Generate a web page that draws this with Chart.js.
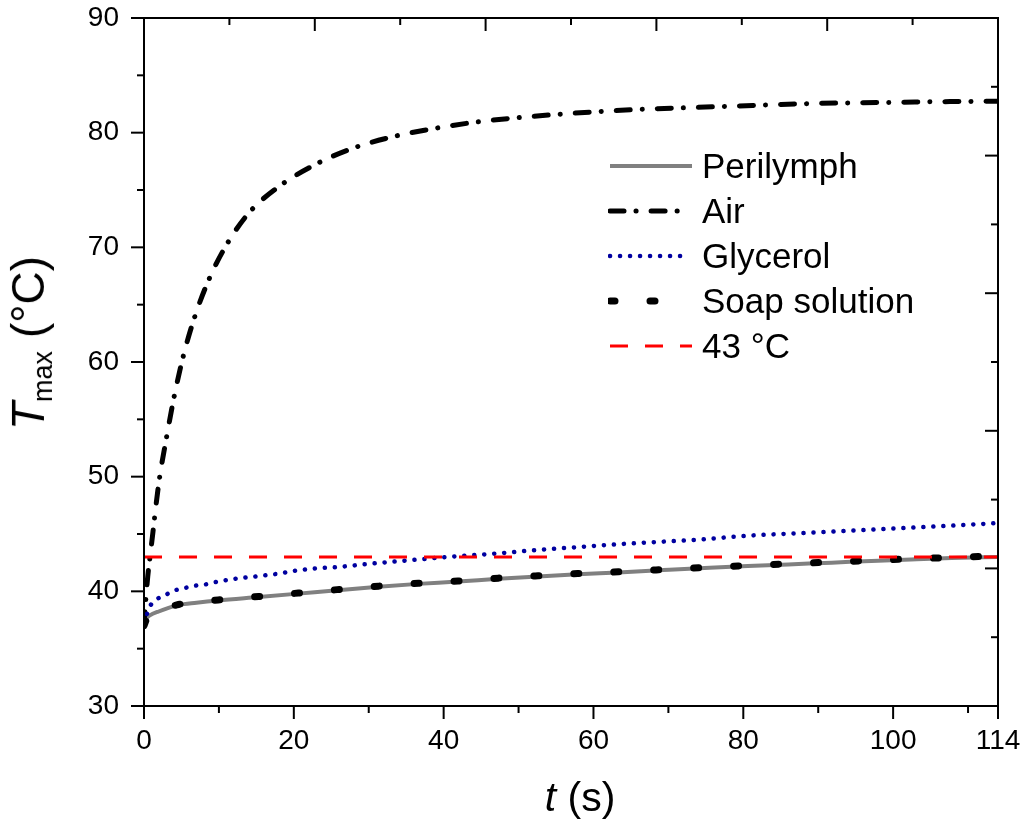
<!DOCTYPE html>
<html>
<head>
<meta charset="utf-8">
<script src="https://cdn.jsdelivr.net/npm/chart.js@4/dist/chart.umd.min.js"></script>
<style>
  html, body { margin: 0; padding: 0; background: #fff; }
  #wrap { position: relative; width: 1024px; height: 819px; font-family: "Liberation Sans", Arial, sans-serif; color: #000; }
  #c { position: absolute; left: 0; top: 0; }
  .title { position: absolute; white-space: nowrap; line-height: 1; }
  #xtitle { left: 580px; top: 797px; transform: translate(-50%, -50%); font-size: 41px; }
  #ytitle { left: 31px; top: 343px; transform: translate(-50%, -50%) rotate(-90deg); font-size: 46px; }
  #ytitle sub { font-size: 27px; vertical-align: -0.3em; }
  #legend { position: absolute; left: 608px; top: 143px; }
  .row { display: flex; align-items: center; height: 45px; }
  .row svg { width: 86px; height: 20px; margin-right: 8px; }
  .row span { font-size: 35px; line-height: 1; }
</style>
</head>
<body>
<div id="wrap">
  <canvas id="c" width="1024" height="819"></canvas>
  <div id="xtitle" class="title"><i>t</i> (s)</div>
  <div id="ytitle" class="title"><i>T</i><sub>max</sub> (°C)</div>
  <div id="legend"></div>
</div>
<script>
// ---- data ----
const seriesNames = ['Perilymph', 'Air', 'Glycerol', 'Soap solution', '43 °C'];

const perilymphT = [0, 0.3, 0.9, 1.8, 3, 4.6, 7, 9.9, 15.3, 20.6, 25.8, 31.3, 36.6, 41.9, 47.3, 52.6, 57.9, 63.3, 69.3, 75.5, 80.6, 86, 91.8, 97.1, 102.4, 107.8, 114];
const perilymphV = [37.1, 37.6, 37.95, 38.2, 38.5, 38.8, 39.0, 39.2, 39.5, 39.8, 40.1, 40.4, 40.65, 40.85, 41.1, 41.3, 41.5, 41.65, 41.85, 42.05, 42.2, 42.35, 42.5, 42.65, 42.78, 42.9, 43.0];

const airT = [0, 0.15, 0.3, 0.5, 0.8, 1.2, 1.6, 2.1, 3.0, 4.0, 5.2, 6.7, 8.6, 11.0, 14.0, 18.0, 22.8, 27.7, 32.9, 38.2, 43.5, 48.9, 54.3, 59.7, 65, 73.5, 79, 84.5, 89.8, 95.2, 100.7, 106, 114];
const airV = [37.0, 38.5, 39.8, 41.3, 43.0, 45.2, 47.5, 50.0, 53.4, 56.9, 60.4, 63.8, 67.1, 70.2, 73.0, 75.3, 77.2, 78.6, 79.6, 80.3, 80.85, 81.25, 81.55, 81.8, 82.0, 82.2, 82.32, 82.45, 82.55, 82.6, 82.65, 82.7, 82.75];

const glycerolT = [0, 0.33, 0.8, 1.7, 2.9, 4.2, 5.5, 6.9, 8.2, 9.5, 12.2, 14.9, 17.5, 20.2, 22.9, 25.5, 30.9, 36.2, 41.5, 47.1, 52.4, 57.8, 63.1, 68.4, 73.9, 80.6, 88.7, 100.9, 107, 114];
const glycerolV = [37.2, 37.9, 38.7, 39.3, 39.7, 40.1, 40.3, 40.5, 40.6, 40.8, 41.1, 41.3, 41.5, 41.8, 42.0, 42.1, 42.45, 42.75, 43.05, 43.3, 43.6, 43.85, 44.1, 44.3, 44.5, 44.85, 45.1, 45.5, 45.7, 45.95];

const soapT = [0, 0.5, 1.8, 4.6, 9.9, 15.3, 20.6, 25.8, 31.3, 36.6, 41.9, 47.3, 52.6, 57.9, 63.3, 69.3, 75.5, 80.6, 86, 91.8, 97.1, 102.4, 107.8, 114];
const soapV = [37.0, 37.8, 38.25, 38.85, 39.25, 39.55, 39.85, 40.15, 40.45, 40.7, 40.9, 41.15, 41.35, 41.55, 41.7, 41.9, 42.1, 42.25, 42.4, 42.55, 42.7, 42.83, 42.95, 43.1];

const thresholdT = [0, 114];
const thresholdV = [43, 43];

// ---- ticks ----
const xTickValues = [0, 20, 40, 60, 80, 100, 114];
const xMinorTicks = [10, 30, 50, 70, 90, 110];
const yTickValues = [30, 40, 50, 60, 70, 80, 90];
const yMinorTicks = [35, 45, 55, 65, 75, 85];
const topTickValues = [0, 11.4, 22.8, 34.2, 45.6, 57, 68.4, 79.8, 91.2, 102.6, 114];
const rightTickValues = [90, 84, 78, 72, 66, 60, 54, 48, 42, 36, 30];

const pts = (ts, vs) => ts.map((t, i) => ({x: t, y: vs[i]}));

const styles = [
  {color: '#808080', width: 4, dash: [], cap: 'butt', legendLen: 82},
  {color: '#000000', width: 5, dash: [14, 12, 0.1, 15], cap: 'round', legendLen: 82},
  {color: '#0000a0', width: 4.5, dash: [0.1, 9.9], cap: 'round', legendLen: 79},
  {color: '#000000', width: 7, dash: [5, 35], cap: 'round', legendLen: 78},
  {color: '#ff0000', width: 3, dash: [18, 17], cap: 'butt', legendLen: 82}
];
const dataSets = [pts(perilymphT, perilymphV), pts(airT, airV), pts(glycerolT, glycerolV), pts(soapT, soapV), pts(thresholdT, thresholdV)];
const orders = [4, 3, 2, 1, 0];

const datasets = dataSets.map((d, i) => ({
  label: seriesNames[i],
  data: d,
  borderColor: styles[i].color,
  borderWidth: styles[i].width,
  borderDash: styles[i].dash,
  borderCapStyle: styles[i].cap,
  borderJoinStyle: 'round',
  pointRadius: 0,
  fill: false,
  cubicInterpolationMode: 'monotone',
  order: orders[i]
}));

const MAJOR = 13, MINOR = 7;
const frameTicks = {
  id: 'frameTicks',
  afterDraw(chart) {
    const {ctx, chartArea: a, scales: {x, y}} = chart;
    ctx.save();
    ctx.strokeStyle = '#000';
    ctx.lineWidth = 2;
    ctx.setLineDash([]);
    const line = (x1, y1, x2, y2) => { ctx.beginPath(); ctx.moveTo(x1, y1); ctx.lineTo(x2, y2); ctx.stroke(); };
    ctx.strokeRect(a.left, a.top, a.right - a.left, a.bottom - a.top);
    xTickValues.forEach(v => { const p = x.getPixelForValue(v); line(p, a.bottom, p, a.bottom + MAJOR); });
    xMinorTicks.forEach(v => { const p = x.getPixelForValue(v); line(p, a.bottom, p, a.bottom + MINOR); });
    yTickValues.forEach(v => { const p = y.getPixelForValue(v); line(a.left - MAJOR, p, a.left, p); });
    yMinorTicks.forEach(v => { const p = y.getPixelForValue(v); line(a.left - MINOR, p, a.left, p); });
    topTickValues.forEach((v, i) => { const p = x.getPixelForValue(v); line(p, a.top, p, a.top + (i % 2 === 0 ? MAJOR : MINOR)); });
    rightTickValues.forEach((v, i) => { const p = y.getPixelForValue(v); line(a.right - (i % 2 === 0 ? MAJOR : MINOR), p, a.right, p); });
    ctx.restore();
  }
};

const tickFont = {family: '"Liberation Sans", Arial, sans-serif', size: 28};

new Chart(document.getElementById('c'), {
  type: 'line',
  data: {datasets},
  options: {
    responsive: false,
    animation: false,
    layout: {padding: {top: 18, right: 26, left: 0, bottom: 0}},
    plugins: {legend: {display: false}, tooltip: {enabled: false}},
    scales: {
      x: {
        type: 'linear', min: 0, max: 114,
        afterBuildTicks: s => { s.ticks = xTickValues.map(v => ({value: v})); },
        afterFit: s => { s.height = 113; },
        grid: {display: true, drawOnChartArea: false, drawTicks: true, tickLength: 18, tickColor: 'rgba(0,0,0,0)'},
        border: {display: true, color: '#000', width: 2},
        ticks: {color: '#000', font: tickFont, padding: 0, maxRotation: 0, autoSkip: false, callback: v => String(v)}
      },
      y: {
        type: 'linear', min: 30, max: 90,
        afterBuildTicks: s => { s.ticks = yTickValues.map(v => ({value: v})); },
        afterFit: s => { s.width = 144; },
        grid: {display: true, drawOnChartArea: false, drawTicks: true, tickLength: 25, tickColor: 'rgba(0,0,0,0)'},
        border: {display: true, color: '#000', width: 2},
        ticks: {color: '#000', font: tickFont, padding: 0, callback: v => String(v)}
      }
    }
  },
  plugins: [frameTicks]
});

// ---- legend built from the dataset styles ----
const legend = document.getElementById('legend');
seriesNames.forEach((name, i) => {
  const st = styles[i];
  const row = document.createElement('div');
  row.className = 'row';
  const ns = 'http://www.w3.org/2000/svg';
  const svg = document.createElementNS(ns, 'svg');
  const ln = document.createElementNS(ns, 'line');
  ln.setAttribute('x1', 2); ln.setAttribute('x2', 2 + st.legendLen);
  ln.setAttribute('y1', 10); ln.setAttribute('y2', 10);
  ln.setAttribute('stroke', st.color);
  ln.setAttribute('stroke-width', st.width);
  ln.setAttribute('stroke-linecap', st.cap);
  if (st.dash.length) ln.setAttribute('stroke-dasharray', st.dash.join(' '));
  svg.appendChild(ln);
  const span = document.createElement('span');
  span.textContent = name;
  row.appendChild(svg);
  row.appendChild(span);
  legend.appendChild(row);
});
</script>
</body>
</html>
